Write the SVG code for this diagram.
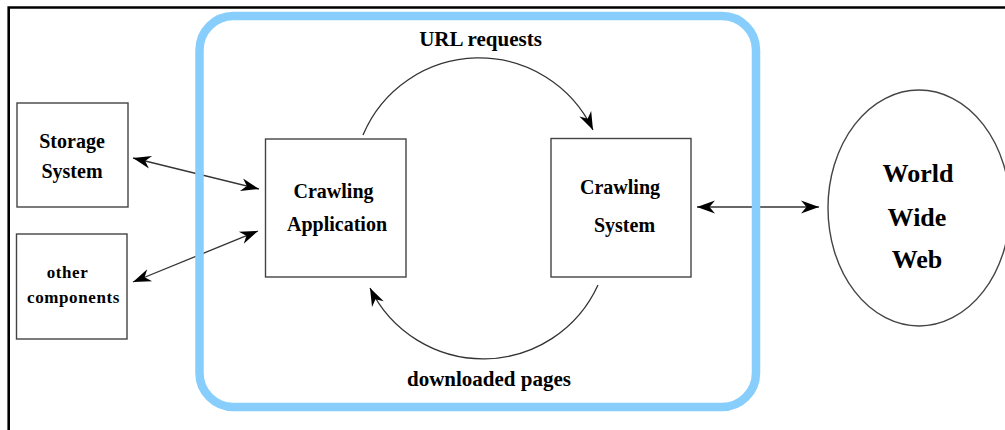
<svg xmlns="http://www.w3.org/2000/svg" width="1005" height="430" viewBox="0 0 1005 430">
<style>
.box{fill:#fff;stroke:#444;stroke-width:1.4}
.conn{fill:none;stroke:#333;stroke-width:1.3}
.t{font-family:"Liberation Serif","Times New Roman",serif;font-weight:bold;fill:#000;text-anchor:middle}
.frame{fill:none;stroke:#88CEFC;stroke-width:8.5}
</style>
<defs>
<marker id="ah" markerUnits="userSpaceOnUse" markerWidth="22" markerHeight="16" viewBox="-19 -8 21 16" refX="0" refY="0" orient="auto-start-reverse">
<path d="M0,0 L-18,-6.5 L-12.5,0 L-18,6.5 Z" fill="#000"/>
</marker>
</defs>
<rect width="1005" height="430" fill="#fff"/>
<path d="M1005,7.5 H8.7 V430" fill="none" stroke="#000" stroke-width="2.6"/>
<g id="connectors">
<line class="conn" x1="133" y1="158" x2="259" y2="189" marker-start="url(#ah)" marker-end="url(#ah)"/>
<line class="conn" x1="133" y1="282" x2="258" y2="231" marker-start="url(#ah)" marker-end="url(#ah)"/>
<line class="conn" x1="697" y1="207" x2="819" y2="207" marker-start="url(#ah)" marker-end="url(#ah)"/>
<path class="conn" d="M363,135 A126,126 0 0 1 593,130" marker-end="url(#ah)"/>
<path class="conn" d="M598,285 A126,126 0 0 1 370,288" marker-end="url(#ah)"/>
<text class="t" x="480.5" y="46" font-size="21">URL requests</text>
<text class="t" x="489" y="386" font-size="21">downloaded pages</text>
</g>
<rect id="frame" class="frame" x="199.5" y="16" width="556.5" height="391" rx="34" ry="34"/>
<g id="storage">
<rect class="box" x="17" y="103" width="111" height="104"/>
<text class="t" x="72" y="148" font-size="20">Storage</text>
<text class="t" x="72" y="178" font-size="20">System</text>
</g>
<g id="other">
<rect class="box" x="16.5" y="234" width="110.5" height="105"/>
<text class="t" x="67.5" y="278" font-size="17" letter-spacing="0.6">other</text>
<text class="t" x="73.5" y="303" font-size="17" letter-spacing="0.6">components</text>
</g>
<g id="app">
<rect class="box" x="265.5" y="139" width="140.5" height="138"/>
<text class="t" x="333.5" y="198" font-size="20">Crawling</text>
<text class="t" x="337" y="231" font-size="20">Application</text>
</g>
<g id="sys">
<rect class="box" x="551" y="138.5" width="140" height="138.5"/>
<text class="t" x="620" y="194" font-size="20">Crawling</text>
<text class="t" x="624.5" y="232" font-size="20">System</text>
</g>
<g id="www">
<ellipse cx="919" cy="208" rx="91" ry="118" fill="#fff" stroke="#444" stroke-width="1.4"/>
<text class="t" x="918" y="182" font-size="26">World</text>
<text class="t" x="917" y="226" font-size="26">Wide</text>
<text class="t" x="917" y="268" font-size="26">Web</text>
</g>
</svg>
